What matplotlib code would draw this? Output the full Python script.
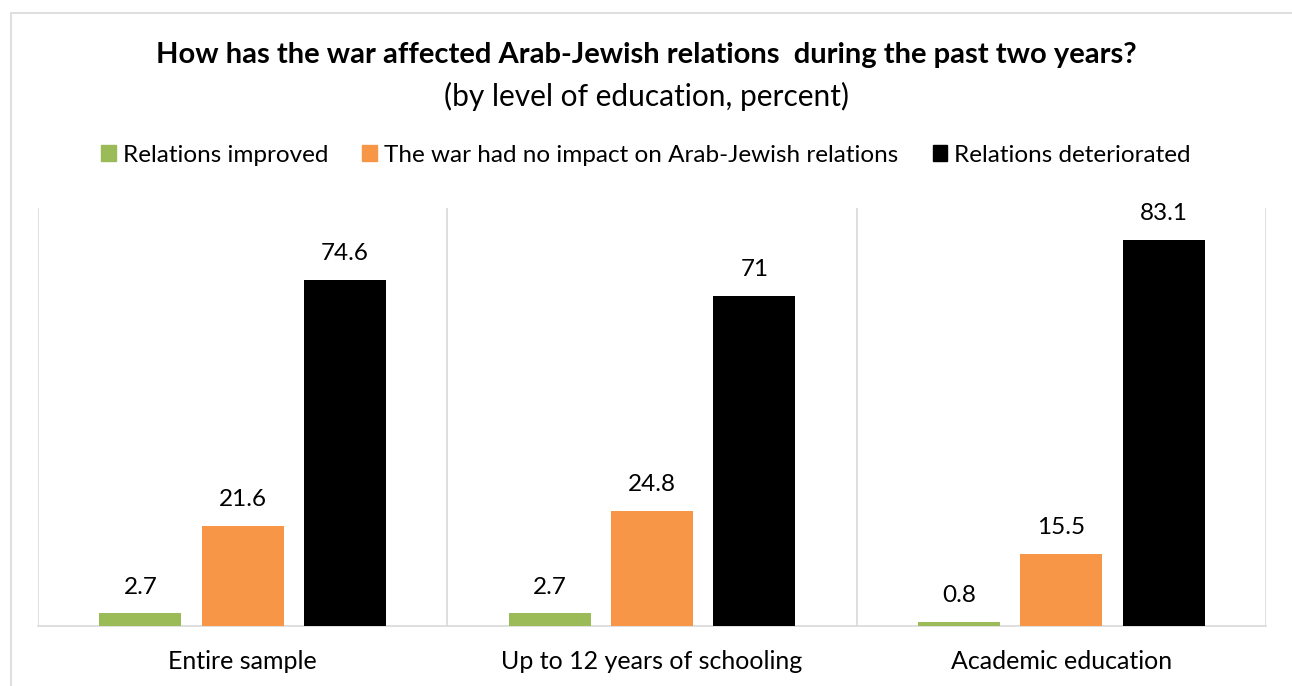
import numpy as np
import matplotlib.pyplot as plt
from matplotlib.patches import Rectangle

plt.rcParams['font.family'] = ['Lato', 'DejaVu Sans']

categories = ['Entire sample', 'Up to 12 years of schooling', 'Academic education']
series = ['Relations improved', 'The war had no impact on Arab-Jewish relations', 'Relations deteriorated']
improved = [2.7, 2.7, 0.8]
no_impact = [21.6, 24.8, 15.5]
deteriorated = [74.6, 71, 83.1]
labels = [['2.7', '2.7', '0.8'], ['21.6', '24.8', '15.5'], ['74.6', '71', '83.1']]
colors = ['#9BBB59', '#F79646', '#000000']

W, H = 1292, 686
fig = plt.figure(figsize=(W / 100, H / 100), dpi=100)

# chart frame
fig.patches.append(Rectangle((11 / W, -0.1), 1.2, 1 - 13 / H + 0.1, transform=fig.transFigure,
                             fill=False, edgecolor='#D9D9D9', linewidth=1.2))

ax = fig.add_axes([38 / W, 60 / H, (1266 - 38) / W, (626 - 208) / H])
x = np.arange(len(categories))
bw = 82 / 408
step = 102 / 408
for k, vals in enumerate([improved, no_impact, deteriorated]):
    pos = x + (k - 1) * step
    ax.bar(pos, vals, width=bw, color=colors[k], label=series[k], zorder=3)
    for p, v, t in zip(pos, vals, labels[k]):
        ax.text(p, v + 3.4, t, ha='center', va='bottom', fontsize=17.5, color='#000000')

for s in np.arange(-0.5, len(categories), 1.0):
    ax.axvline(s, color='#D9D9D9', linewidth=1.2, zorder=1)

ax.set_xlim(-0.5, len(categories) - 0.5)
ax.set_ylim(0, 90)
for sp in ['top', 'right', 'left']:
    ax.spines[sp].set_visible(False)
ax.spines['bottom'].set_color('#D9D9D9')
ax.spines['bottom'].set_linewidth(1.2)
ax.set_yticks([])
ax.set_xticks(x)
ax.set_xticklabels(categories, fontsize=18)
ax.tick_params(axis='x', length=0, pad=17)

fig.text(0.5, 1 - 55 / H, 'How has the war affected Arab-Jewish relations  during the past two years?',
         ha='center', va='center', fontsize=21, fontweight='bold')
fig.text(0.5, 1 - 96 / H, '(by level of education, percent)', ha='center', va='center', fontsize=21.5)

handles = [Rectangle((0, 0), 1, 1, color=c) for c in colors]
fig.legend(handles, series, loc='center', bbox_to_anchor=(0.5, 1 - 155 / H), ncol=3, frameon=False,
           fontsize=17.5, handlelength=0.6, handleheight=0.6, handletextpad=0.3, columnspacing=1.4)

fig.savefig('out.png', dpi=100)
